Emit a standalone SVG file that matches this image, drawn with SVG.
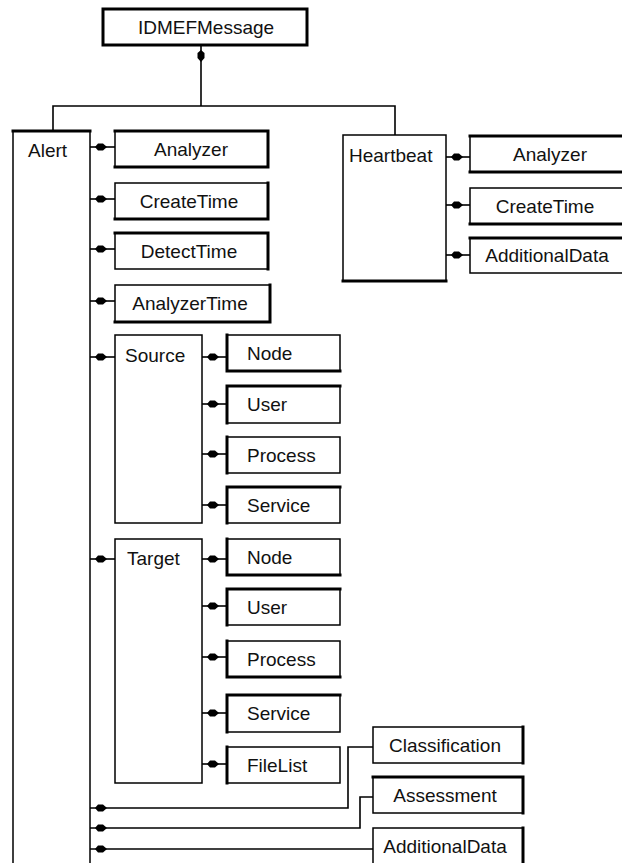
<svg xmlns="http://www.w3.org/2000/svg" width="622" height="863" viewBox="0 0 622 863">
<style>
.box{fill:#fff;stroke:#000;stroke-width:1.5}
.bold{fill:#fff;stroke:#000;stroke-width:3}
.sh{fill:none;stroke:#000;stroke-width:3;stroke-linecap:square}
.ln{fill:none;stroke:#000;stroke-width:1.6}
.agg{marker-end:url(#dia)}
text{font-family:"Liberation Sans",Arial,sans-serif;font-size:19px;fill:#111}
.c{text-anchor:middle}
</style>
<defs>
<marker id="dia" markerUnits="userSpaceOnUse" markerWidth="24" markerHeight="12" viewBox="0 0 24 12" refX="22" refY="6" orient="auto">
<path d="M5,6 L9,2.5 L14,2.5 L17,6 L14,9.5 L9,9.5 Z" fill="#000"/>
</marker>
</defs>
<rect width="622" height="863" fill="#fff"/>
<g id="connectors">
<path class="ln agg" d="M201,106 V45"/>
<path class="ln" d="M53,131 V106 H395 V135"/>
<path class="ln agg" d="M115,147 H90"/>
<path class="ln agg" d="M115,199 H90"/>
<path class="ln agg" d="M115,249 H90"/>
<path class="ln agg" d="M115,301 H90"/>
<path class="ln agg" d="M115,357 H90"/>
<path class="ln agg" d="M115,559 H90"/>
<path class="ln agg" d="M227,357 H202"/>
<path class="ln agg" d="M227,404 H202"/>
<path class="ln agg" d="M227,454 H202"/>
<path class="ln agg" d="M227,505 H202"/>
<path class="ln agg" d="M227,559 H202"/>
<path class="ln agg" d="M227,606 H202"/>
<path class="ln agg" d="M227,657 H202"/>
<path class="ln agg" d="M227,713 H202"/>
<path class="ln agg" d="M227,764 H202"/>
<path class="ln agg" d="M470,157 H446"/>
<path class="ln agg" d="M470,205 H446"/>
<path class="ln agg" d="M470,255 H446"/>
<path class="ln agg" d="M373,747 H348 V808 H90"/>
<path class="ln agg" d="M373,797 H360 V828 H90"/>
<path class="ln agg" d="M373,849 H90"/>
</g>
<g id="idmefmessage"><rect class="bold" x="103" y="9" width="204" height="36"/><text class="c" x="206" y="34">IDMEFMessage</text></g>
<g id="alert"><rect class="box" x="13" y="131" width="77" height="745"/><path class="sh" d="M13,131 H90"/><text x="28" y="157">Alert</text></g>
<g id="alert-analyzer"><rect class="box" x="115" y="131" width="153" height="36"/><path class="sh" d="M115,131 H268 V167 H115"/><text class="c" x="191" y="156">Analyzer</text></g>
<g id="alert-createtime"><rect class="box" x="115" y="183" width="153" height="36"/><path class="sh" d="M268,183 V219 H115"/><text class="c" x="189" y="208">CreateTime</text></g>
<g id="alert-detecttime"><rect class="box" x="115" y="233" width="153" height="36"/><path class="sh" d="M115,233 H268 V269"/><text class="c" x="189" y="258">DetectTime</text></g>
<g id="alert-analyzertime"><rect class="box" x="115" y="285" width="155" height="37"/><path class="sh" d="M270,285 V322 H115"/><text class="c" x="190" y="310">AnalyzerTime</text></g>
<g id="source"><rect class="box" x="115" y="335" width="87" height="188"/><text x="125" y="362">Source</text></g>
<g id="source-node"><rect class="box" x="227" y="335" width="113" height="36"/><path class="sh" d="M227,335 V371 H340"/><text x="247" y="360">Node</text></g>
<g id="source-user"><rect class="box" x="227" y="386" width="113" height="37"/><path class="sh" d="M227,423 V386 H340"/><text x="247" y="411">User</text></g>
<g id="source-process"><rect class="box" x="227" y="437" width="113" height="36"/><path class="sh" d="M227,437 V473"/><text x="247" y="462">Process</text></g>
<g id="source-service"><rect class="box" x="227" y="487" width="113" height="36"/><path class="sh" d="M227,523 V487 H340"/><text x="247" y="512">Service</text></g>
<g id="target"><rect class="box" x="115" y="539" width="87" height="244"/><text x="127" y="565">Target</text></g>
<g id="target-node"><rect class="box" x="227" y="539" width="113" height="36"/><path class="sh" d="M227,539 V575 H340"/><text x="247" y="564">Node</text></g>
<g id="target-user"><rect class="box" x="227" y="589" width="113" height="36"/><path class="sh" d="M227,625 V589 H340"/><text x="247" y="614">User</text></g>
<g id="target-process"><rect class="box" x="227" y="641" width="113" height="36"/><path class="sh" d="M227,641 V677 H340"/><text x="247" y="666">Process</text></g>
<g id="target-service"><rect class="box" x="227" y="695" width="113" height="37"/><path class="sh" d="M227,732 V695 H340"/><text x="247" y="720">Service</text></g>
<g id="target-filelist"><rect class="box" x="227" y="747" width="113" height="36"/><path class="sh" d="M227,747 V783"/><text x="247" y="772">FileList</text></g>
<g id="heartbeat"><rect class="box" x="343" y="135" width="103" height="146"/><path class="sh" d="M343,281 H446"/><text x="349" y="162">Heartbeat</text></g>
<g id="heartbeat-analyzer"><rect class="box" x="470" y="136" width="155" height="36"/><path class="sh" d="M470,136 H625 M470,172 H625"/><text class="c" x="550" y="161">Analyzer</text></g>
<g id="heartbeat-createtime"><rect class="box" x="470" y="188" width="155" height="36"/><path class="sh" d="M470,224 H625"/><text class="c" x="545" y="213">CreateTime</text></g>
<g id="heartbeat-additionaldata"><rect class="box" x="470" y="238" width="155" height="35"/><path class="sh" d="M470,238 H625"/><text class="c" x="547" y="262">AdditionalData</text></g>
<g id="classification"><rect class="box" x="373" y="727" width="150" height="36"/><path class="sh" d="M523,727 V763"/><text class="c" x="445" y="752">Classification</text></g>
<g id="assessment"><rect class="box" x="373" y="777" width="150" height="36"/><path class="sh" d="M373,777 H523 V813"/><text class="c" x="445" y="802">Assessment</text></g>
<g id="additionaldata"><rect class="box" x="373" y="828" width="150" height="40"/><path class="sh" d="M523,828 V868"/><text class="c" x="445" y="853">AdditionalData</text></g>
</svg>
